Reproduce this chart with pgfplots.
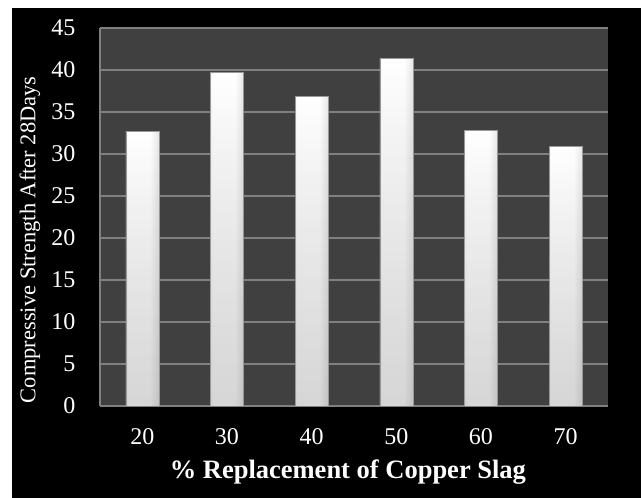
\documentclass[border=0pt]{standalone}
\usepackage{fontspec}
\setmainfont{Liberation Serif}
\usepackage{pgfplots}
\pgfplotsset{compat=1.18}
\usetikzlibrary{fadings}

% colours of the chart
\definecolor{plotbg}{RGB}{64,64,64}
\definecolor{gridgray}{RGB}{128,128,128}
\definecolor{barleft}{RGB}{135,135,135}
\definecolor{barright}{RGB}{120,120,120}

% bar body: grey edges, white centre
\pgfdeclarehorizontalshading{barshade}{100bp}{%
  color(0bp)=(barleft); color(8bp)=(gray!35); color(28bp)=(white);
  color(62bp)=(white); color(90bp)=(gray!40); color(100bp)=(barright)}

\pgfplotsset{
  glassbar/.style={ybar, bar width=33pt, bar shift=0pt,
    draw=gray!80, line width=0.6pt, shading=barshade,
    postaction={fill=black, fill opacity=0.2, path fading=north}},
}

\begin{document}
\begin{tikzpicture}
  % white margin and black panel
  \fill[white] (-100pt,-92pt) rectangle (541pt,406pt);
  \fill[black] (-88pt,-92pt) rectangle (541pt,398pt);
  \begin{axis}[
    at={(0pt,0pt)}, anchor=south west,
    scale only axis,
    width=508pt, height=378pt,
    xmin=15, xmax=75,
    ymin=0, ymax=45,
    xtick={20,30,40,50,60,70},
    ytick={0,5,...,45},
    major tick length=0pt,
    axis x line*=bottom, axis y line*=left,
    axis line style={gridgray, line width=1.2pt, -},
    axis background/.style={fill=plotbg},
    ymajorgrids,
    grid style={gridgray, line width=1.2pt},
    /pgf/number format/assume math mode=true,
    ticklabel style={font=\fontsize{24}{26}\selectfont, text=white},
    xticklabel style={anchor=center, yshift=-31pt},
    yticklabel style={anchor=east, xshift=-21pt},
    xlabel={\textbf{\% Replacement of Copper Slag}},
    xlabel style={font=\fontsize{26.5}{28}\selectfont, text=white,
                  at={(axis description cs:0.488,-0.175)}, anchor=center},
    ylabel={Compressive Strength After 28Days},
    ylabel style={font=\fontsize{22.5}{24}\selectfont, text=white,
                  at={(axis description cs:-0.138,0.44)}, anchor=center},
  ]
    \addplot[glassbar] coordinates {(20,32.65)};
    \addplot[glassbar] coordinates {(30,39.7)};
    \addplot[glassbar] coordinates {(40,36.9)};
    \addplot[glassbar] coordinates {(50,41.4)};
    \addplot[glassbar] coordinates {(60,32.8)};
    \addplot[glassbar] coordinates {(70,30.95)};
  \end{axis}
  \pgfresetboundingbox
  \path[use as bounding box] (-100pt,-92pt) rectangle (541pt,406pt);
\end{tikzpicture}
\end{document}
